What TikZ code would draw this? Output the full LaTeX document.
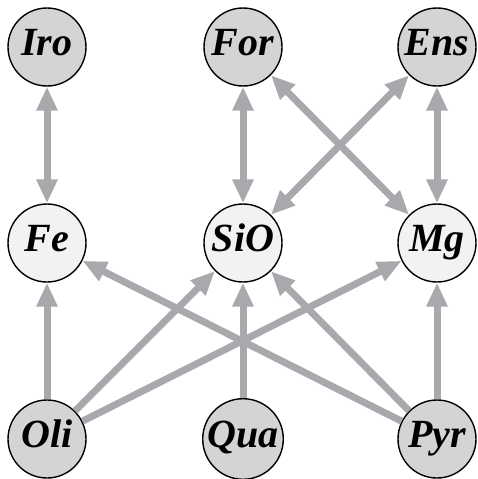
\documentclass[tikz,border=0pt]{standalone}
\usepackage{fontspec}
\newfontfamily\nodefont{Liberation Serif}
\usetikzlibrary{arrows.meta}
\definecolor{edgegray}{HTML}{A7A9AC}
\definecolor{darkfill}{HTML}{D3D4D6}
\definecolor{lightfill}{HTML}{F1F2F3}
\tikzset{
  vnode/.style={circle, draw=black, line width=1.4pt, minimum size=78pt, inner sep=0pt,
    text height=27pt, text depth=11pt,
    font=\nodefont\fontsize{40}{40}\selectfont\bfseries\itshape},
  outer/.style={vnode, fill=darkfill},
  inner/.style={vnode, fill=lightfill},
  conn/.style={draw=edgegray, line width=7pt},
  tipone/.style={conn, -{Triangle[length=24pt,width=20pt]}},
  tiptwo/.style={conn, {Triangle[length=24pt,width=20pt]}-{Triangle[length=24pt,width=20pt]}}
}
\begin{document}
\begin{tikzpicture}[x=1pt,y=-1pt]
\useasboundingbox (0,0) rectangle (477,479);
\node[outer] (iro) at (47,47) {Iro};
\node[outer] (for) at (243,47) {For};
\node[outer] (ens) at (437,47) {Ens};
\node[inner] (fe) at (47,243) {Fe};
\node[inner] (sio) at (243,243) {SiO};
\node[inner] (mg) at (437,243) {Mg};
\node[outer] (oli) at (47,439) {Oli};
\node[outer] (qua) at (243,439) {Qua};
\node[outer] (pyr) at (437,439) {Pyr};
\draw[tiptwo] (iro) -- (fe);
\draw[tiptwo] (for) -- (sio);
\draw[tiptwo] (ens) -- (mg);
\draw[tiptwo] (for) -- (mg);
\draw[tiptwo] (ens) -- (sio);
\draw[tipone] (oli) -- (fe);
\draw[tipone] (oli) -- (sio);
\draw[tipone] (oli) -- (mg);
\draw[tipone] (qua) -- (sio);
\draw[tipone] (pyr) -- (fe);
\draw[tipone] (pyr) -- (sio);
\draw[tipone] (pyr) -- (mg);
\end{tikzpicture}
\end{document}
